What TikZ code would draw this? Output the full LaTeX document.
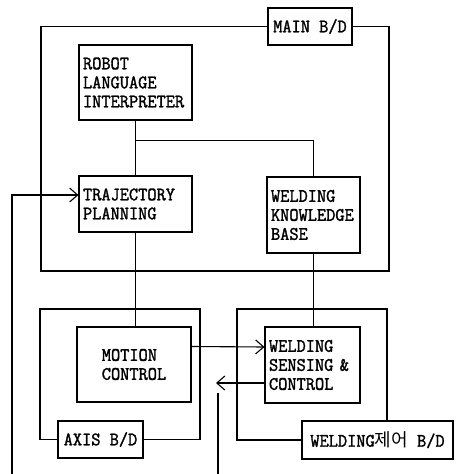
\documentclass[tikz,border=0pt]{standalone}
\usepackage{fontspec}
\newfontfamily\boxfont{Latin Modern Mono}[FakeStretch=0.94, FakeBold=1.6]
\newfontfamily\krfont{Noto Sans CJK KR}
\usetikzlibrary{arrows.meta}
\tikzset{
    wire/.style={
        draw=black,
        line width=1.1pt,
    },
    arr/.style={
        wire,
        -{Straight Barb[length=8pt,width=14pt]},
    },
    frameline/.style={
        wire,
    },
    blockbox/.style={
        rectangle,
        draw=black,
        fill=white,
        line width=1.1pt,
        font=\boxfont\fontsize{19}{19}\selectfont,
        inner xsep=4pt,
        align=left,
    },
    boardbox/.style={
        blockbox,
        inner sep=0pt,
    },
}

\begin{document}
\begin{tikzpicture}[x=1pt, y=-1pt]
    \useasboundingbox (0,0) rectangle (456,474);

    % Main board
    \node[boardbox, minimum width=84pt, minimum height=37pt] (mainbd) at (310,26.5) {MAIN B/D};
    \node[blockbox, text width=105pt, minimum height=75pt] (robot) at (135.5,82.5) {ROBOT\\LANGUAGE\\INTERPRETER};
    \node[blockbox, text width=105pt, minimum height=56pt] (traj) at (135.5,204) {TRAJECTORY\\PLANNING};
    \node[blockbox, text width=85pt, minimum height=76pt] (wkb) at (313.5,215) {WELDING\\KNOWLEDGE\\BASE};

    % Axis board
    \node[boardbox, minimum width=85pt, minimum height=37pt] (axisbd) at (100.5,439.5) {AXIS B/D};
    \node[blockbox, minimum width=114pt, minimum height=75pt] (motion) at (134,364.5) {MOTION\\CONTROL};

    % Welding board
    \node[boardbox, minimum width=151pt, minimum height=38pt] (weldbd) at (377.5,440) {WELDING{\krfont\fontsize{18}{19}\selectfont 제어} B/D};
    \node[blockbox, text width=87pt, minimum height=76pt] (wsc) at (312.5,365) {WELDING\\SENSING \&\\CONTROL};

    % Board frames
    \coordinate (mfbl) at (41,271);
    \coordinate (mfbr) at (389,271);
    \draw[frameline] (mainbd.west) -| (mfbl) -- (mfbr) |- (mainbd.east);
    \coordinate (axtl) at (40,309);
    \coordinate (axbr) at (200,439.5);
    \draw[frameline] (axisbd.west) -| (axtl) -| (axbr) -- (axisbd.east);
    \coordinate (wftl) at (237,309);
    \coordinate (wfr) at (387,421);
    \draw[frameline] (weldbd.west) -| (wftl) -| (wfr);

    % Connections
    \coordinate (jn) at ([yshift=-20pt]robot.south);
    \draw[wire] (robot.south) -- (traj.north);
    \draw[wire] (jn) -| (wkb.north);
    \draw[wire] (traj.south) -- (traj.south |- motion.north);
    \draw[wire] (wkb.south) -- (wkb.south |- wsc.north);
    \draw[arr] ([yshift=18pt]motion.east) -- ([yshift=18pt]wsc.west);

    % Feedback
    \coordinate (fb) at (216,383);
    \draw[arr] ([yshift=-18pt]wsc.west) -- (fb);
    \coordinate (fbin) at (218,474);
    \coordinate (fbtop) at (218,393);
    \draw[wire] (fbin) -- (fbtop);
    \coordinate (axin) at (12,474);
    \draw[arr] (axin) |- ([yshift=9pt]traj.west);

\end{tikzpicture}
\end{document}
